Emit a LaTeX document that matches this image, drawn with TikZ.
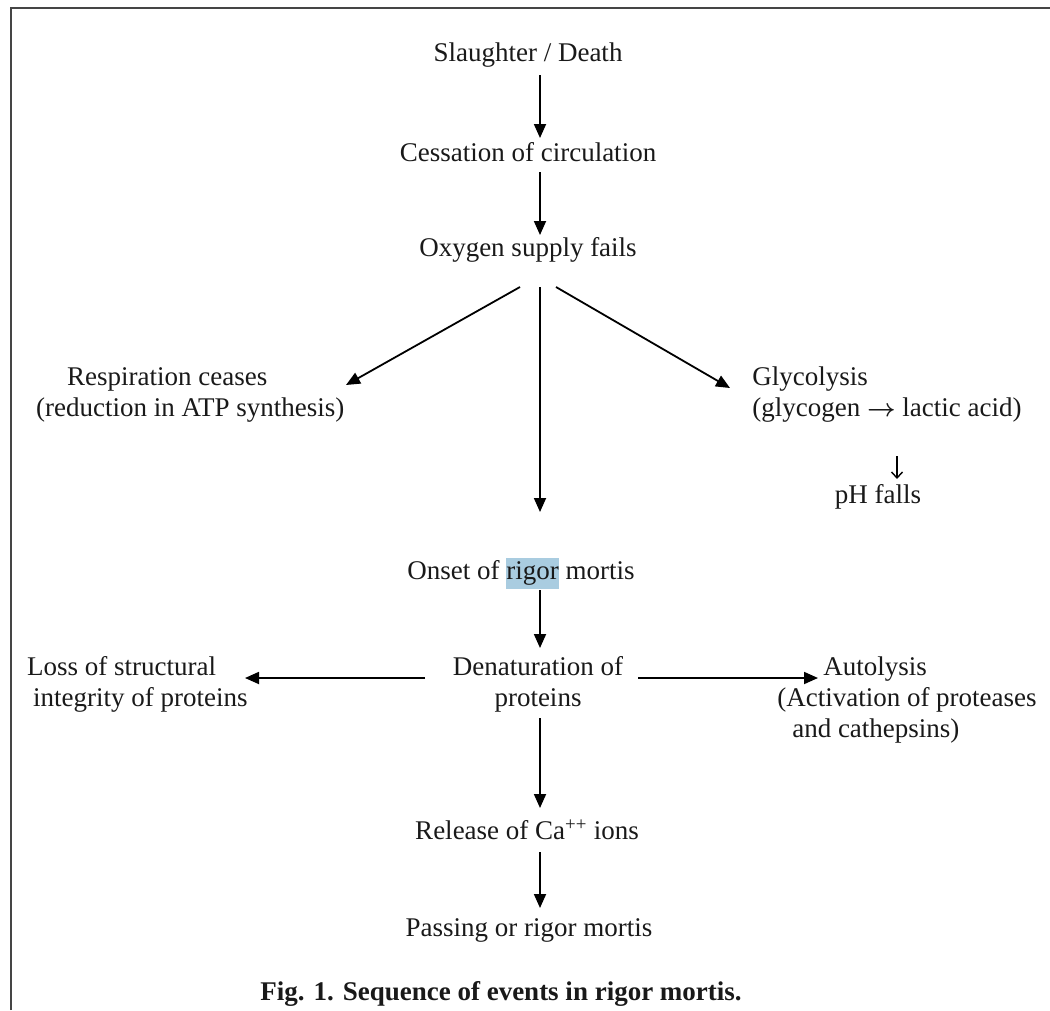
\documentclass[tikz,border=0pt]{standalone}
\usepackage{amsmath}
\usepackage{fontspec}
\setmainfont{Liberation Serif}
\usetikzlibrary{arrows.meta,calc}
\definecolor{hl}{HTML}{A9CCE0}
\definecolor{framec}{HTML}{454545}
\tikzset{
  lbl/.style={inner sep=0pt, font=\fontsize{27}{31}\selectfont, text=black!90},
  arr/.style={line width=1.8pt, -{Triangle[length=14pt,width=12pt]}},
  small/.style={line width=1.4pt, -{Straight Barb[length=6pt,width=11pt]}},
  frame/.style={line width=2.6pt, draw=framec}
}
\begin{document}
\begin{tikzpicture}[x=1pt,y=1pt]
\useasboundingbox (0,0) rectangle (1050,-1010);
\draw[frame] (11,-1010) -- (11,-8) -- (1050,-8);

\node[lbl] (sl) at (528,-55) {Slaughter / Death};
\node[lbl] (ce) at (528,-152) {Cessation of circulation};
\node[lbl] (ox) at (528,-250) {Oxygen supply fails};
\node[lbl, align=left, anchor=west] (re) at (36,-395) {\hspace*{31pt}Respiration ceases\\(reduction in ATP synthesis)};
\node[lbl, align=left] (gl) at (887,-395) {Glycolysis\\(glycogen $\boldsymbol{\rightarrow}$ lactic acid)};
\node[lbl] (ph) at (878,-497) {pH falls};
\node[lbl] (on) at (521,-573) {Onset of {\setlength{\fboxsep}{0pt}\colorbox{hl}{\strut rigor}} mortis};
\node[lbl, align=center] (de) at (538,-684) {Denaturation of\\proteins};
\node[lbl, align=left, anchor=west] (lo) at (27,-684) {Loss of structural\\\hspace*{6pt}integrity of proteins};
\node[lbl, align=left] (au) at (907,-700) {\hspace*{46pt}Autolysis\\(Activation of proteases\\\hspace*{15pt}and cathepsins)};
\node[lbl] (rl) at (527,-830) {Release of Ca\textsuperscript{++} ions};
\node[lbl] (pa) at (529,-930) {Passing or rigor mortis};
\node[lbl, font=\fontsize{27}{31}\selectfont\bfseries] (cap) at (501,-994) {Fig. 1. Sequence of events in rigor mortis.};

\draw[arr] ([shift={(12,-20)}]sl.center) -- ([shift={(12,14)}]ce.center);
\draw[arr] ([shift={(12,-20)}]ce.center) -- ([shift={(12,15)}]ox.center);
\draw[arr] ([shift={(-8,-37)}]ox.center) -- ([shift={(310,10)}]re.west);
\draw[arr] ([shift={(12,-37)}]ox.center) -- ([shift={(19,61)}]on.center);
\draw[arr] ([shift={(28,-37)}]ox.center) -- ([shift={(-157,7)}]gl.center);
\draw[small] ([shift={(10,-61)}]gl.center) -- ([shift={(19,18)}]ph.center);
\draw[arr] ([shift={(19,-17)}]on.center) -- ([shift={(2,36)}]de.center);
\draw[arr] ([shift={(-113,6)}]de.center) -- ([shift={(218,6)}]lo.west);
\draw[arr] ([shift={(100,6)}]de.center) -- ([shift={(-89,22)}]au.center);
\draw[arr] ([shift={(2,-34)}]de.center) -- ([shift={(13,22)}]rl.center);
\draw[arr] ([shift={(13,-22)}]rl.center) -- ([shift={(11,22)}]pa.center);
\end{tikzpicture}
\end{document}
